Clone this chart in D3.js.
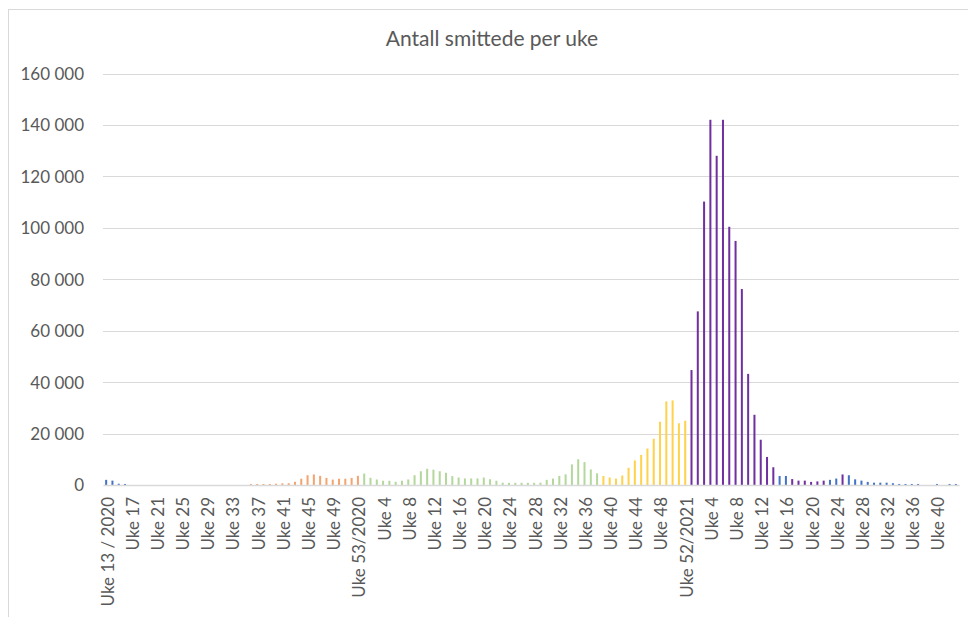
<!DOCTYPE html>
<html>
<head>
<meta charset="utf-8">
<script src="https://cdn.jsdelivr.net/npm/d3@7/dist/d3.min.js"></script>
<style>
  html, body { margin: 0; padding: 0; background: #ffffff; }
  svg { display: block; }
  text { font-family: Lato, "Open Sans", sans-serif; fill: #595959; }
</style>
</head>
<body>
<svg id="chart" width="968" height="617"></svg>
<script>
// ---- Data ----
const title = "Antall smittede per uke";

// Week categories (year-week keys)
const weeks2020 = d3.range(13, 54).map(w => "2020-" + w);
const weeks2021 = d3.range(1, 53).map(w => "2021-" + w);
const weeks2022 = d3.range(1, 44).map(w => "2022-" + w);
const categories = weeks2020.concat(weeks2021, weeks2022);

// Weekly cases
const values2020 = [
  2000, 1700, 500, 400,
  0, 0, 0, 0, 0, 0, 0, 0, 0, 0, 0, 0, 0, 0, 0, 0, 0, 0, 0,
  400, 400, 400, 400, 500, 650, 700, 1250, 2450, 3800, 4100, 3550, 2750, 2100, 2450, 2450, 2750, 3550
];
const values2021 = [
  4450, 2800, 2150, 1650, 1650, 1250, 1650, 2150, 3800, 5350, 6300, 5950, 5350, 4750, 3450, 2900,
  2550, 2550, 2550, 2900, 2250, 1650, 900, 850, 850, 850, 850, 850, 900, 2000, 2500, 3550,
  4150, 8000, 10000, 8900, 6050, 4550, 3500, 2900, 2500, 3700, 6700, 9550, 11700, 14200,
  18000, 24600, 32500, 32900, 24000, 25000
];
const values2022 = [
  44700, 67500, 110200, 142000, 128000, 142000, 100400, 94900, 76200, 43200, 27300, 17600, 10900, 6900,
  3500, 3500, 2300, 1700, 1700, 1200, 1400, 1700, 2000, 2500, 4100, 3800, 2200, 1700, 1200,
  900, 900, 900, 700, 400, 400, 400, 400, 0, 0, 400, 0, 400, 400
];
const values = values2020.concat(values2021, values2022);

// Wave group per week (as coloured in the picture)
const waves = [].concat(
  Array(23).fill("w1"),   // 2020 uke 13-35
  Array(18).fill("w2"),   // 2020 uke 36-53
  Array(38).fill("w3"),   // 2021 uke 1-38
  Array(14).fill("w4"),   // 2021 uke 39-52
  Array(14).fill("w5"),   // 2022 uke 1-14
  ["w1","w1","w5","w5","w5","w5","w5","w5","w1","w1","w5"], // 2022 uke 15-25
  Array(18).fill("w1")    // 2022 uke 26-43
);

const tickLabels = [
  "Uke 13 / 2020","Uke 17","Uke 21","Uke 25","Uke 29","Uke 33","Uke 37","Uke 41","Uke 45","Uke 49","Uke 53/2020",
  "Uke 4","Uke 8","Uke 12","Uke 16","Uke 20","Uke 24","Uke 28","Uke 32","Uke 36","Uke 40","Uke 44","Uke 48","Uke 52/2021",
  "Uke 4","Uke 8","Uke 12","Uke 16","Uke 20","Uke 24","Uke 28","Uke 32","Uke 36","Uke 40"
];
const yTicks = [0, 20000, 40000, 60000, 80000, 100000, 120000, 140000, 160000];

// ---- Drawing ----
const svg = d3.select("#chart");
const plotLeft = 103, plotRight = 959, plotTop = 73.5, plotBottom = 485;

// chart frame
svg.append("rect")
  .attr("x", 8.5).attr("y", 9.5).attr("width", 980).attr("height", 640)
  .attr("fill", "#ffffff").attr("stroke", "#d9d9d9").attr("stroke-width", 1);

const x = d3.scaleBand().domain(categories).range([plotLeft, plotRight]).paddingInner(0.68).paddingOuter(0.34);
const y = d3.scaleLinear().domain([0, 160000]).range([plotBottom, plotTop]);
const color = d3.scaleOrdinal()
  .domain(["w1", "w2", "w3", "w4", "w5"])
  .range(["#4472c4", "#f4a46e", "#b4d79c", "#ffd24d", "#7030a0"]);

// gridlines
svg.append("g").selectAll("line").data(yTicks.filter(t => t > 0)).join("line")
  .attr("x1", plotLeft).attr("x2", plotRight)
  .attr("y1", d => Math.round(y(d)) + 0.5).attr("y2", d => Math.round(y(d)) + 0.5)
  .attr("stroke", "#d9d9d9").attr("stroke-width", 1);

// y axis labels
const fmt = d => d3.format(",")(d).replace(/,/g, " ");
const yAxis = d3.axisLeft(y).tickValues(yTicks).tickFormat(fmt).tickSize(0).tickPadding(19);
const yg = svg.append("g").attr("transform", `translate(${plotLeft},0)`).call(yAxis);
yg.select(".domain").remove();
yg.selectAll("text").style("font-size", "17px").attr("fill", "#595959").attr("dy", "0.35em");

// bars
svg.append("g").selectAll("rect").data(categories).join("rect")
  .attr("x", d => x(d))
  .attr("width", x.bandwidth())
  .attr("y", (d, i) => y(values[i]))
  .attr("height", (d, i) => y(0) - y(values[i]))
  .attr("fill", (d, i) => color(waves[i]));

// x axis
const tickCats = categories.filter((d, i) => i % 4 === 0);
const xAxis = d3.axisBottom(x).tickValues(tickCats)
  .tickFormat((d, i) => tickLabels[i]).tickSize(0).tickPadding(0);
const xg = svg.append("g").attr("transform", `translate(0,${plotBottom})`).call(xAxis);
xg.select(".domain").attr("stroke", "#d9d9d9").attr("stroke-width", 1.5);
xg.selectAll("text")
  .style("font-size", "17px")
  .attr("fill", "#595959")
  .attr("text-anchor", "end")
  .attr("transform", "rotate(-90)")
  .attr("x", -12)
  .attr("y", 1.5)
  .attr("dy", "0.35em");

// title
svg.append("text")
  .attr("x", 492).attr("y", 46)
  .attr("text-anchor", "middle")
  .style("font-size", "21px")
  .attr("fill", "#595959")
  .text(title);
</script>
</body>
</html>
